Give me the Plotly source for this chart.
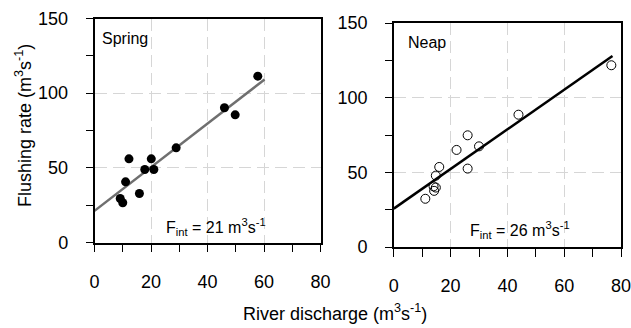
import plotly.graph_objects as go

W, H = 631, 328

# Spring (filled circles)
spring_q = [57.8, 46.0, 49.8, 28.9, 20.1, 12.2, 17.8, 21.0, 11.0, 15.9, 9.1, 10.0]
spring_f = [111.4, 90.2, 85.5, 63.4, 56.0, 56.0, 48.9, 48.9, 40.6, 32.8, 29.5, 26.6]
spring_fit_q = [0, 60.2]
spring_fit_f = [21.2, 109.2]

# Neap (open circles)
neap_q = [76.6, 43.9, 26.0, 30.0, 22.1, 26.0, 16.0, 14.8, 14.0, 14.8, 14.2, 11.1]
neap_f = [121.7, 88.6, 74.8, 67.4, 65.0, 52.5, 53.6, 47.8, 40.6, 39.8, 37.6, 32.3]
neap_fit_q = [0, 77.0]
neap_fit_f = [25.7, 127.9]

x_ticks = [0, 20, 40, 60, 80]
y_ticks = [0, 50, 100, 150]

FONT = "Liberation Sans, Arial, sans-serif"

def px(x):
    return x / W

def py(y):
    return 1 - y / H

fig = go.Figure()
fig.add_trace(go.Scatter(x=spring_fit_q, y=spring_fit_f, mode="lines",
                         line=dict(color="#6f6f6f", width=2.5),
                         xaxis="x", yaxis="y", showlegend=False))
fig.add_trace(go.Scatter(x=spring_q, y=spring_f, mode="markers",
                         marker=dict(size=9, color="black", line=dict(width=0)),
                         xaxis="x", yaxis="y", showlegend=False))
fig.add_trace(go.Scatter(x=neap_fit_q, y=neap_fit_f, mode="lines",
                         line=dict(color="black", width=2.5),
                         xaxis="x2", yaxis="y2", showlegend=False))
fig.add_trace(go.Scatter(x=neap_q, y=neap_f, mode="markers",
                         marker=dict(size=9, color="black", symbol="circle-open",
                                     line=dict(width=1, color="black")),
                         xaxis="x2", yaxis="y2", showlegend=False))

def xa(domain, anchor):
    return dict(domain=domain, anchor=anchor, range=[0, 80], tickvals=x_ticks,
                automargin=False, ticklabeloverflow="allow",
                ticks="outside", ticklen=8, tickwidth=1.3, tickcolor="black",
                showline=True, linecolor="black", linewidth=1.5, mirror=True,
                showgrid=True, gridcolor="#d6d6d6", griddash="12px,6px", gridwidth=1,
                zeroline=False, ticklabelstandoff=14,
                minor=dict(dtick=10, tick0=0, ticks="outside", ticklen=8, tickwidth=1.3,
                           tickcolor="black", showgrid=False),
                tickfont=dict(family=FONT, size=18, color="black"))

def ya(domain, anchor):
    return dict(domain=domain, anchor=anchor, range=[0, 150], tickvals=y_ticks,
                automargin=False, ticklabeloverflow="allow",
                ticks="outside", ticklen=7, tickwidth=1.3, tickcolor="black",
                showline=True, linecolor="black", linewidth=1.5, mirror=True,
                showgrid=True, gridcolor="#d6d6d6", griddash="12px,6px", gridwidth=1,
                zeroline=False, ticklabelstandoff=14,
                minor=dict(dtick=25, tick0=0, ticks="outside", ticklen=7, tickwidth=1.3,
                           tickcolor="black", showgrid=False),
                tickfont=dict(family=FONT, size=18, color="black"))

fig.update_layout(
    width=W, height=H, margin=dict(l=0, r=0, t=0, b=0, autoexpand=False),
    paper_bgcolor="white", plot_bgcolor="white",
    font=dict(family=FONT, color="black"),
    xaxis=xa([px(94.5), px(320.5)], "y"),
    yaxis=ya([py(242.5), py(18.5)], "x"),
    xaxis2=xa([px(393.8), px(621)], "y2"),
    yaxis2=ya([py(247), py(23)], "x2"),
)

ann = [
    dict(text="Spring", x=px(100), y=py(38.5), xanchor="left", yanchor="middle", size=16),
    dict(text="Neap", x=px(405.5), y=py(42), xanchor="left", yanchor="middle", size=16),
    dict(text="F<sub>int</sub> = 21 m<sup>3</sup>s<sup>-1</sup>", x=px(164), y=py(227),
         xanchor="left", yanchor="middle", size=16),
    dict(text="F<sub>int</sub> = 26 m<sup>3</sup>s<sup>-1</sup>", x=px(468), y=py(230),
         xanchor="left", yanchor="middle", size=16),
    dict(text="River discharge (m<sup>3</sup>s<sup>-1</sup>)", x=px(335), y=py(312),
         xanchor="center", yanchor="middle", size=18),
]
annotations = [dict(text=a["text"], x=a["x"], y=a["y"], xref="paper", yref="paper",
                    xanchor=a["xanchor"], yanchor=a["yanchor"], showarrow=False,
                    font=dict(family=FONT, size=a["size"], color="black"))
               for a in ann]
annotations.append(dict(text="Flushing rate (m<sup>3</sup>s<sup>-1</sup>)", x=px(23), y=py(126),
                        xref="paper", yref="paper", xanchor="center", yanchor="middle",
                        textangle=-90, showarrow=False,
                        font=dict(family=FONT, size=18, color="black")))
fig.update_layout(annotations=annotations)

fig.write_html("out.html")
